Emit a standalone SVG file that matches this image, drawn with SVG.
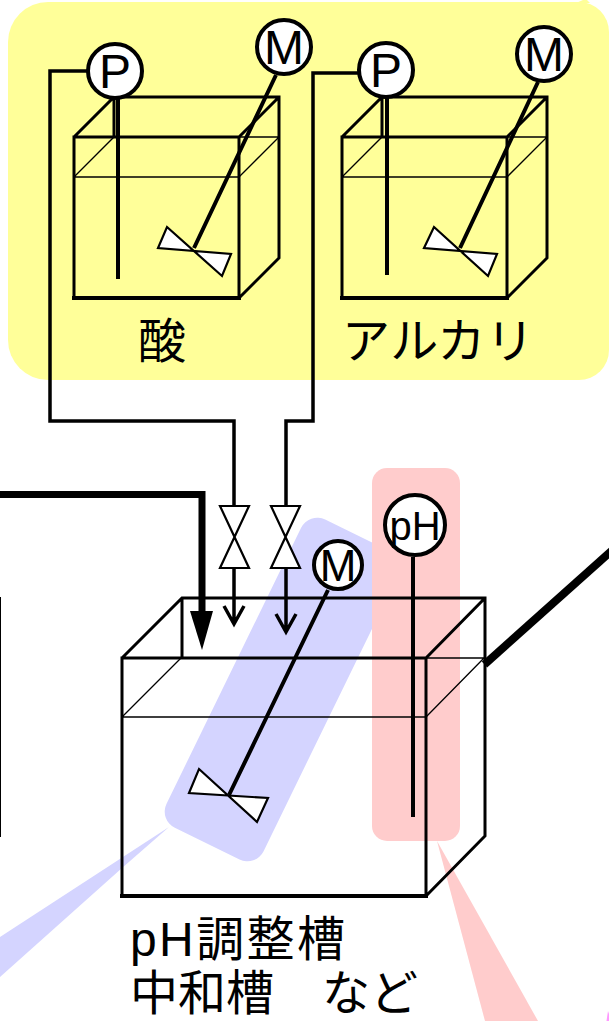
<svg xmlns="http://www.w3.org/2000/svg" width="609" height="1021" viewBox="0 0 609 1021">
<style>
.t{fill:none;stroke:#000;stroke-width:3;stroke-linejoin:miter}
.b{fill:none;stroke:#000;stroke-width:4}
.thin{fill:none;stroke:#000;stroke-width:1.3}
.rod{fill:none;stroke:#000;stroke-width:4}
.pipe{fill:none;stroke:#000;stroke-width:3.5}
.imp{fill:#fff;stroke:#000;stroke-width:2.2;stroke-linejoin:miter}
.c{fill:#fff;stroke:#000;stroke-width:4}
.lbl{font-family:"Liberation Sans",Arial,sans-serif;fill:#000;text-anchor:middle}
.jp{font-family:"Liberation Sans","Noto Sans CJK JP",sans-serif;fill:#000;font-size:48px}
</style>
<rect x="0" y="0" width="609" height="1021" fill="#fff"/>
<g id="callout-tips">
<path d="M576 3L583 0H587L590 3Z" fill="#ffff99"/>
<path d="M608 1011L606.500 1021H609V1014Z" fill="#ff99ff"/>
</g>
<path id="yellow-zone" d="M48 2H579A30 30 0 0 1 609 32V350A30 30 0 0 1 579 380H48A40 40 0 0 1 8 340V42A40 40 0 0 1 48 2Z" fill="#ffff99"/>
<g id="zones">
<path d="M169 827L0 937V977L122 868Z" fill="#d4d4ff"/>
<rect x="228.400" y="518" width="108" height="343" rx="18" fill="#d4d4ff" transform="rotate(26 282.400 689.400)"/>
<path d="M437 841L485 1021H538Z" fill="#ffcccc"/>
<rect x="372" y="468" width="88" height="373" rx="15" fill="#ffcccc"/>
</g>
<g id="connectors">
<path class="pipe" d="M88 71H50V421H234V506"/>
<path class="pipe" d="M360 73H313V421H286V506"/>
<path class="pipe" d="M234 568V624M224 606L234 624L244 606"/>
<path class="pipe" d="M286 568V632M276 614L286 632L296 614"/>
<path d="M0 494.500H202V612" fill="none" stroke="#000" stroke-width="7"/>
<path d="M190 611H213L202 650Z" fill="#000"/>
<path d="M484.500 664.500L612 550.500" fill="none" stroke="#000" stroke-width="8"/>
<path d="M0 597V837" fill="none" stroke="#000" stroke-width="2"/>
</g>
<g id="acid-tank">
<path class="t" d="M74 137H239V298H74ZM74 137L114 97H279V258L239 298M239 137L279 97M114 97V137"/>
<path class="b" d="M72 298H241"/>
<path class="thin" d="M74 177H239M74 177L114 137H279M239 177L279 137"/>
<path class="rod" d="M118 98V279M276 75L194 248"/>
<polygon class="imp" points="167,227 222,276 231,254 158,248"/>
<circle class="c" cx="115" cy="71" r="27"/><text class="lbl" x="115" y="88" font-size="48">P</text>
<circle class="c" cx="284" cy="47" r="27"/><text class="lbl" x="284" y="64" font-size="48">M</text>
<text class="jp" x="138" y="358">酸</text>
</g>
<g id="alkali-tank">
<path class="t" d="M342 137H507V298H342ZM342 137L382 97H547V258L507 298M507 137L547 97M382 97V137"/>
<path class="b" d="M340 298H509"/>
<path class="thin" d="M342 177H507M342 177L382 137H547M507 177L547 137"/>
<path class="rod" d="M387 98V275M538 82L460 248"/>
<polygon class="imp" points="434,227 488,276 497,254 424,248"/>
<circle class="c" cx="386" cy="70" r="27"/><text class="lbl" x="386" y="87" font-size="48">P</text>
<circle class="c" cx="544" cy="54" r="27"/><text class="lbl" x="544" y="71" font-size="48">M</text>
<text class="jp" x="342" y="358" textLength="192">アルカリ</text>
</g>
<g id="valve-1"><polygon class="imp" points="220,506 249,506 220,568 249,568"/></g>
<g id="valve-2"><polygon class="imp" points="271,506 300,506 271,568 300,568"/></g>
<g id="main-tank">
<path class="t" d="M122 658H426V896H122ZM122 658L182 598H485V836L426 896M426 658L485 598M182 598V658"/>
<path class="b" d="M120 896H428"/>
<path class="thin" d="M426 658H485M122 717H426M122 717L182 657M426 717L485 657"/>
<path class="rod" d="M413 557V817M328 590L229 795"/>
<polygon class="imp" points="199,769 257,822 268,798 189,793"/>
<circle class="c" cx="415" cy="525" r="30"/><text class="lbl" x="415" y="540" font-size="40">pH</text>
<circle class="c" cx="338" cy="565" r="24"/><text class="lbl" x="338" y="581" font-size="44">M</text>
<text class="jp" x="130" y="956" textLength="215">pH調整槽</text>
<text class="jp" x="130" y="1010">中和槽　など</text>
</g>
</svg>
